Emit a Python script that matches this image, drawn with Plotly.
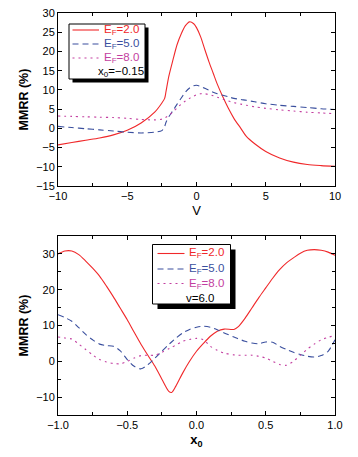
import plotly.graph_objects as go

# ---- Top panel data (V sweep, x0 = -0.15) ----
v = [-10, -9, -8, -7, -6, -5, -4, -3, -2.5, -2.3, -2.2, -2.0, -1.7, -1.4, -1.1, -0.8, -0.5, -0.2, 0, 0.3, 0.6, 0.9, 1.2, 1.5, 1.9, 2.3, 2.7, 3.2, 3.6, 4.2, 5, 6, 7, 8, 9, 10]
mmrr_v_ef2 = [-4.3, -3.7, -3.1, -2.5, -1.7, -0.5, 1.4, 4.3, 6.6, 7.8, 9.6, 13.5, 17.8, 21.8, 24.6, 26.7, 27.7, 27.2, 26.2, 23.8, 20.5, 17.3, 14.4, 11.5, 8.2, 5.2, 2.6, 0.0, -2.1, -4.0, -6.0, -7.7, -8.8, -9.4, -9.7, -9.9]
mmrr_v_ef5 = [0.5, 0.2, -0.1, -0.4, -0.7, -1.0, -1.2, -1.0, -0.6, 0.5, 1.6, 3.0, 4.6, 6.3, 7.9, 9.4, 10.5, 11.1, 11.2, 10.9, 10.4, 9.9, 9.4, 9.0, 8.6, 8.2, 7.8, 7.5, 7.3, 6.9, 6.4, 6.0, 5.7, 5.4, 5.1, 4.9]
mmrr_v_ef8 = [3.2, 3.1, 3.0, 2.9, 2.8, 2.6, 2.3, 2.2, 2.4, 2.7, 2.9, 3.3, 4.3, 5.3, 6.3, 7.1, 7.8, 8.4, 8.7, 9.0, 9.0, 8.8, 8.5, 8.1, 7.6, 7.1, 6.7, 6.3, 6.0, 5.6, 5.2, 4.8, 4.5, 4.2, 4.0, 3.8]

# ---- Bottom panel data (x0 sweep, v = 6.0) ----
x0 = [-1.0, -0.95, -0.9, -0.85, -0.8, -0.75, -0.7, -0.65, -0.6, -0.55, -0.5, -0.45, -0.4, -0.35, -0.3, -0.25, -0.2, -0.18, -0.15, -0.1, -0.05, 0.0, 0.05, 0.1, 0.15, 0.2, 0.27, 0.3, 0.35, 0.4, 0.45, 0.5, 0.55, 0.6, 0.65, 0.7, 0.75, 0.8, 0.85, 0.9, 0.95, 1.0]
mmrr_x_ef2 = [30.0, 30.8, 30.8, 29.8, 28.0, 26.0, 23.8, 21.0, 18.0, 14.8, 11.6, 8.1, 4.7, 1.6, -1.4, -5.0, -8.4, -8.7, -7.0, -3.3, 0.0, 2.8, 5.0, 7.0, 8.4, 9.0, 8.9, 9.6, 12.0, 14.9, 17.8, 20.5, 23.2, 25.6, 27.5, 28.9, 30.2, 31.0, 31.2, 31.0, 30.5, 29.6]
mmrr_x_ef5 = [13.0, 12.2, 11.2, 9.4, 7.5, 6.0, 4.8, 4.4, 4.2, 2.9, 0.5, -1.4, -2.1, -0.9, 0.9, 2.8, 4.7, 5.4, 6.4, 7.9, 8.9, 9.5, 9.8, 9.5, 8.8, 7.9, 6.8, 6.3, 5.6, 5.1, 4.9, 5.4, 5.3, 4.2, 3.3, 2.5, 1.9, 1.4, 1.2, 1.6, 2.8, 6.0]
mmrr_x_ef8 = [6.8, 6.5, 6.2, 4.8, 3.3, 1.8, 0.5, -0.2, -0.6, -0.7, 0.0, 0.9, 1.6, 1.7, 1.7, 2.5, 3.5, 3.9, 4.5, 5.6, 6.1, 6.4, 6.0, 4.2, 3.1, 2.3, 1.8, 1.7, 1.7, 1.7, 1.4, 0.9, 0.0, -0.9, -1.1, 0.0, 1.7, 3.4, 4.8, 6.0, 6.7, 7.2]

series_labels = ["E<sub>F</sub>=2.0", "E<sub>F</sub>=5.0", "E<sub>F</sub>=8.0"]
top_note = "x<sub>0</sub>=\u22120.15"
bottom_note = "v=6.0"

RED = "#f0282a"
BLUE = "#3a4f9e"
MAG = "#c33ea0"
COLORS = [RED, BLUE, MAG]
DASHES = ["solid", "6px,4px", "2px,4px"]
FONT = "Liberation Sans"
W, H = 358, 457

fig = go.Figure()
for ys, c, d, nm in zip([mmrr_v_ef2, mmrr_v_ef5, mmrr_v_ef8], COLORS, DASHES, series_labels):
    fig.add_trace(go.Scatter(x=v, y=ys, mode="lines", name=nm,
                             line=dict(color=c, width=1.1, dash=d, shape="spline", smoothing=0.8),
                             xaxis="x", yaxis="y"))
for ys, c, d, nm in zip([mmrr_x_ef2, mmrr_x_ef5, mmrr_x_ef8], COLORS, DASHES, series_labels):
    fig.add_trace(go.Scatter(x=x0, y=ys, mode="lines", name=nm,
                             line=dict(color=c, width=1.1, dash=d, shape="spline", smoothing=0.8),
                             xaxis="x2", yaxis="y2"))

axis_common = dict(showline=True, linecolor="black", linewidth=1, mirror="ticks", ticks="inside", ticklen=4,
                   tickcolor="black", showgrid=False, zeroline=False, automargin=False,
                   tickfont=dict(family=FONT, size=11, color="black"))
minor_common = dict(ticks="inside", ticklen=3, tickcolor="black", showgrid=False)

xd = [58 / W, 335 / W]
fig.update_layout(
    width=W, height=H, margin=dict(l=0, r=0, t=0, b=0),
    paper_bgcolor="white", plot_bgcolor="white", showlegend=False,
    font=dict(family=FONT, size=11, color="black"),
    xaxis=dict(domain=xd, range=[-10, 10], dtick=5, tickformat="d", minor=dict(dtick=2.5, **minor_common),
               title=dict(text="V", font=dict(family=FONT, size=13), standoff=4), anchor="y", **axis_common),
    yaxis=dict(domain=[1 - 186 / H, 1 - 13 / H], range=[-15, 30], dtick=5,
               title=dict(text="<b>MMRR (%)</b>", font=dict(family=FONT, size=12.5), standoff=4), anchor="x", **axis_common),
    xaxis2=dict(domain=xd, range=[-1, 1], dtick=0.5, tickformat=".1f", minor=dict(dtick=0.25, **minor_common),
                title=dict(text="<b>x<sub>0</sub></b>", font=dict(family=FONT, size=13), standoff=4), anchor="y2", **axis_common),
    yaxis2=dict(domain=[1 - 415 / H, 1 - 236 / H], range=[-15, 35], dtick=10, minor=dict(dtick=5, **minor_common),
                title=dict(text="<b>MMRR (%)</b>", font=dict(family=FONT, size=12.5), standoff=4), anchor="x2", **axis_common),
)


def px(xp):
    return xp / W


def py(yp):
    return 1 - yp / H


def legend_box(left, top, right, bottom, shadow, rows, line_x, text_x, note, note_y, note_right):
    # shadow then white framed box
    fig.add_shape(type="rect", xref="paper", yref="paper", x0=px(left + shadow), x1=px(right + shadow),
                  y0=py(bottom + shadow), y1=py(top + shadow), fillcolor="black", line=dict(width=0), layer="above")
    fig.add_shape(type="rect", xref="paper", yref="paper", x0=px(left), x1=px(right), y0=py(bottom), y1=py(top),
                  fillcolor="white", line=dict(color="black", width=1), layer="above")
    for ry, c, d, lab in zip(rows, COLORS, DASHES, series_labels):
        fig.add_shape(type="line", xref="paper", yref="paper", x0=px(line_x[0]), x1=px(line_x[1]), y0=py(ry), y1=py(ry),
                      line=dict(color=c, width=1.1, dash=d), layer="above")
        fig.add_annotation(xref="paper", yref="paper", x=px(text_x), y=py(ry), xanchor="left", yanchor="middle",
                           text=lab, showarrow=False, font=dict(family=FONT, size=11.5, color=c))
    fig.add_annotation(xref="paper", yref="paper", x=px(note_right), y=py(note_y), xanchor="right", yanchor="middle",
                       text=note, showarrow=False, font=dict(family=FONT, size=11.5, color="black"))


legend_box(69, 24, 145, 79, 3.5, [30, 44, 58], (72.5, 99), 102, top_note, 72, 146)
legend_box(152.5, 244.5, 230.5, 304, 5, [253.5, 269, 283.5], (157.5, 184.5), 187, bottom_note, 298, 216)

fig.write_html("out.html", config={"displayModeBar": False},
               post_script="document.body.style.margin='0';document.body.style.overflow='hidden';")
